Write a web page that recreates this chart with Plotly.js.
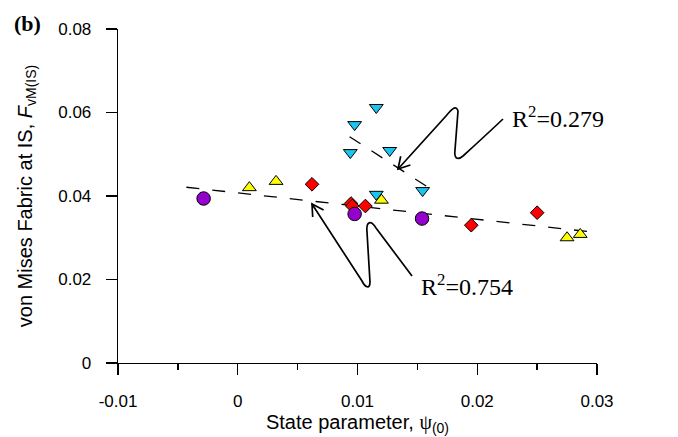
<!DOCTYPE html>
<html>
<head>
<meta charset="utf-8">
<script src="https://cdn.plot.ly/plotly-3.0.1.min.js"></script>
<style>html,body{margin:0;padding:0;background:#fff;}#chart{width:678px;height:437px;}</style>
</head>
<body>
<div id="chart"></div>
<script>
// ---- data ----
var purpleX = [-0.00285, 0.00976, 0.01539];
var purpleY = [0.0394, 0.0357, 0.0346];

var redX = [0.0062, 0.00946, 0.00957, 0.01066, 0.0195, 0.0250];
var redY = [0.0428, 0.0382, 0.0376, 0.0376, 0.0330, 0.0360];

var yellowX = [0.00097, 0.0032, 0.0120, 0.0275, 0.0286];
var yellowY = [0.0420, 0.0435, 0.0390, 0.0300, 0.0308];

var cyanX = [0.01157, 0.00976, 0.0094, 0.01269, 0.01544, 0.01157];
var cyanY = [0.0612, 0.0571, 0.0504, 0.0509, 0.0413, 0.0404];

var fitAllX = [-0.00429, 0.03237];
var fitAllY = [0.0421, 0.0305];
var fitCyanX = [0.00934, 0.0160];
var fitCyanY = [0.0542, 0.0419];

var xTickVals = [-0.01, 0, 0.01, 0.02, 0.03];
var xTickText = ['-0.01', '0', '0.01', '0.02', '0.03'];
var yTickVals = [0, 0.02, 0.04, 0.06, 0.08];
var yTickText = ['0', '0.02', '0.04', '0.06', '0.08'];

var r2Labels = ['R<sup>2</sup>=0.279', 'R<sup>2</sup>=0.754'];

// ---- layout helpers (pixel -> data for the annotation curves) ----
var L = 118, R = 81, T = 29, B = 74, W = 678, H = 437;
var xr = [-0.01, 0.03], yr = [0, 0.08];
function X(px) { return xr[0] + (px - L) / (W - L - R) * (xr[1] - xr[0]); }
function Y(py) { return yr[0] + (H - B - py) / (H - T - B) * (yr[1] - yr[0]); }
function path(cmds) {
  return cmds.map(function (c) {
    var s = c[0];
    for (var i = 1; i < c.length; i += 2) s += (i > 1 ? ' ' : '') + X(c[i]) + ',' + Y(c[i + 1]);
    return s;
  }).join(' ');
}

var font = 'Liberation Sans, Arial, sans-serif';
var serif = 'Liberation Serif, Times New Roman, serif';

var lineStyle = {color: 'black', width: 1.3, dash: '13px,13px'};
var traces = [
  {x: fitAllX, y: fitAllY, mode: 'lines', line: lineStyle, hoverinfo: 'skip'},
  {x: fitCyanX, y: fitCyanY, mode: 'lines', line: lineStyle, hoverinfo: 'skip'},
  {x: cyanX, y: cyanY, mode: 'markers', marker: {symbol: 'triangle-down', size: 12, color: '#1cc4f0', line: {color: 'black', width: 1}}},
  {x: redX, y: redY, mode: 'markers', marker: {symbol: 'diamond', size: 10.5, color: '#ff0000', line: {color: 'black', width: 1}}},
  {x: yellowX, y: yellowY, mode: 'markers', marker: {symbol: 'triangle-up', size: 12, color: '#ffff00', line: {color: 'black', width: 1}}},
  {x: purpleX, y: purpleY, mode: 'markers', marker: {symbol: 'circle', size: 13.5, color: '#9400cc', line: {color: 'black', width: 1}}}
];

var arrowLine = {color: 'black', width: 1.7};
var shapes = [
  {type: 'path', xref: 'x', yref: 'y', line: arrowLine,
   path: path([['M', 398, 169], ['L', 446, 116], ['C', 451, 110, 456, 104, 458, 111], ['L', 455, 150], ['C', 454, 158, 457, 161, 463, 156], ['Q', 485, 136, 503, 119]])},
  {type: 'path', xref: 'x', yref: 'y', line: arrowLine,
   path: path([['M', 410.4, 165], ['L', 398, 169], ['L', 400.7, 156.3]])},
  {type: 'path', xref: 'x', yref: 'y', line: arrowLine,
   path: path([['M', 312, 204], ['L', 362, 281], ['C', 365, 287, 370, 290, 370, 282], ['L', 367, 232], ['C', 366, 221, 371, 220, 376, 228], ['L', 412, 276]])},
  {type: 'path', xref: 'x', yref: 'y', line: arrowLine,
   path: path([['M', 312.7, 217], ['L', 312, 204], ['L', 323.6, 209.9]])}
];

var annotations = [
  {x: X(558), y: Y(117), xref: 'x', yref: 'y', text: r2Labels[0], showarrow: false, xanchor: 'center', yanchor: 'middle', font: {family: serif, size: 24, color: 'black'}},
  {x: X(467), y: Y(285), xref: 'x', yref: 'y', text: r2Labels[1], showarrow: false, xanchor: 'center', yanchor: 'middle', font: {family: serif, size: 24, color: 'black'}},
  {x: (12 - L) / (W - L - R), y: (H - B - 24) / (H - T - B), xref: 'paper', yref: 'paper', text: '<b>(b)</b>', showarrow: false, xanchor: 'left', yanchor: 'middle', font: {family: serif, size: 22, color: 'black'}}
];

var layout = {
  width: W, height: H,
  margin: {l: L, r: R, t: T, b: B, pad: 0},
  paper_bgcolor: 'white', plot_bgcolor: 'white',
  showlegend: false,
  font: {family: font, size: 17, color: 'black'},
  xaxis: {
    range: xr, showgrid: false, zeroline: false, showline: true, linecolor: 'black', linewidth: 1.3,
    ticks: 'outside', ticklen: 11, tickwidth: 1.3, tickcolor: 'black',
    tickmode: 'array', tickvals: xTickVals, ticktext: xTickText, ticklabelstandoff: 11,
    minor: {tickmode: 'linear', tick0: -0.01, dtick: 0.005, ticks: 'outside', ticklen: 6, tickwidth: 1.3, tickcolor: 'black', showgrid: false},
    tickfont: {family: font, size: 17},
    title: {text: 'State parameter, <span style="font-family:Liberation Serif">ψ</span><sub>(0)</sub>', font: {family: font, size: 20}, standoff: 5},
    automargin: false
  },
  yaxis: {
    range: yr, showgrid: false, zeroline: false, showline: true, linecolor: 'black', linewidth: 1.3,
    ticks: 'outside', ticklen: 11, tickwidth: 1.3, tickcolor: 'black',
    tickmode: 'array', tickvals: yTickVals, ticktext: yTickText, ticklabelstandoff: 11,
    tickfont: {family: font, size: 17},
    title: {text: 'von Mises Fabric at IS, <i>F</i><sub>vM(IS)</sub>', font: {family: font, size: 20}, standoff: 20},
    automargin: false
  },
  shapes: shapes,
  annotations: annotations
};

Plotly.newPlot('chart', traces, layout, {displayModeBar: false, staticPlot: true});
</script>
</body>
</html>
